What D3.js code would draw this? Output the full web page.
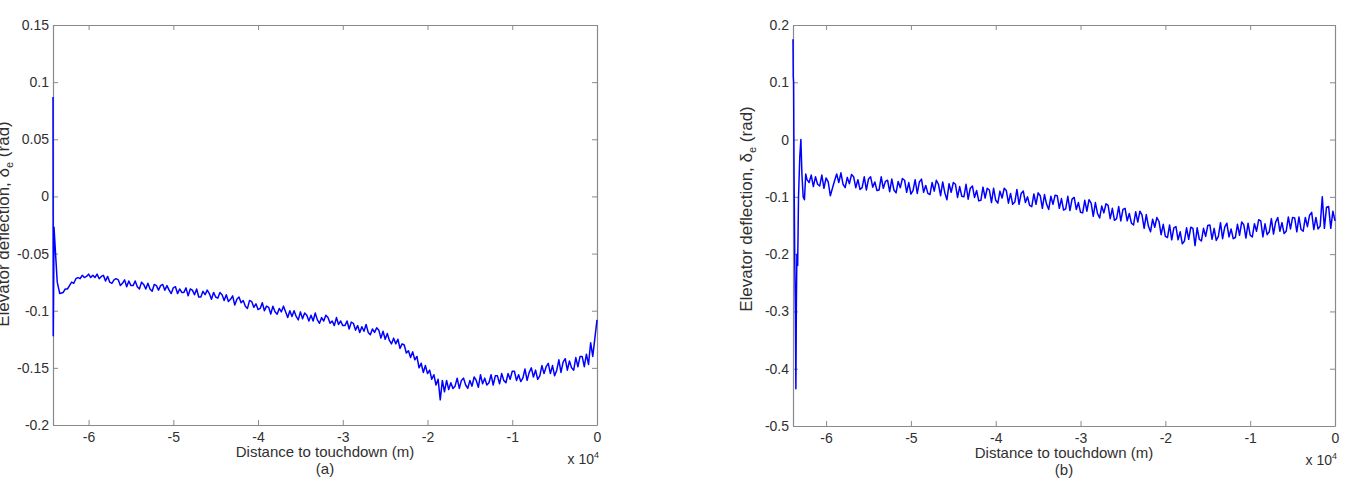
<!DOCTYPE html>
<html><head><meta charset="utf-8">
<script src="https://cdn.jsdelivr.net/npm/d3@7"></script>
<style>
body{margin:0;background:#fff}
svg{display:block}
text{font-family:"Liberation Sans",Arial,sans-serif;fill:#303030}
</style>
</head><body>
<svg id="c" width="1350" height="486"></svg>
<script>
// ---------------- data ----------------
const STEP = 250; // sampling interval of the main record (m)

// panel (a): initial transient samples
const leftEarlyDist = [-64200, -64170, -64120, -64080, -63900, -63700, -63400, -63000];
const leftEarlyVal  = [0.087, -0.122, -0.075, -0.027, -0.050, -0.075, -0.085, -0.084];
// panel (a): main record, first sample at -62750 m, every STEP m up to 0
const leftMainStart = -62750;
const leftMainVal = [
 -0.081,-0.081,-0.078,-0.075, -0.076,-0.072,-0.071,-0.072, -0.069,-0.071,-0.070,-0.068,
 -0.071,-0.069,-0.071,-0.068, -0.072,-0.070,-0.069,-0.074, -0.070,-0.075,-0.076,-0.073,
 -0.072,-0.073,-0.078,-0.076, -0.073,-0.079,-0.074,-0.078, -0.078,-0.074,-0.079,-0.081,
 -0.075,-0.077,-0.081,-0.076, -0.081,-0.083,-0.077,-0.078, -0.082,-0.078,-0.077,-0.082,
 -0.078,-0.082,-0.085,-0.080, -0.079,-0.085,-0.081,-0.084, -0.084,-0.080,-0.087,-0.081,
 -0.082,-0.086,-0.081,-0.088, -0.088,-0.083,-0.086,-0.082, -0.085,-0.090,-0.084,-0.088,
 -0.089,-0.084,-0.086,-0.091, -0.086,-0.092,-0.090,-0.087, -0.095,-0.090,-0.088,-0.093,
 -0.091,-0.096,-0.098,-0.091, -0.092,-0.097,-0.094,-0.099, -0.098,-0.093,-0.100,-0.096,
 -0.097,-0.103,-0.096,-0.101, -0.103,-0.098,-0.101,-0.096, -0.101,-0.106,-0.100,-0.105,
 -0.100,-0.105,-0.108,-0.101, -0.107,-0.102,-0.104,-0.109, -0.104,-0.109,-0.102,-0.108,
 -0.111,-0.106,-0.109,-0.104, -0.106,-0.111,-0.109,-0.113, -0.106,-0.112,-0.109,-0.113,
 -0.113,-0.109,-0.116,-0.110, -0.111,-0.117,-0.113,-0.119, -0.114,-0.118,-0.112,-0.119,
 -0.121,-0.116,-0.119,-0.115, -0.117,-0.124,-0.118,-0.125, -0.120,-0.126,-0.129,-0.124,
 -0.129,-0.125,-0.133,-0.129, -0.130,-0.137,-0.135,-0.141, -0.136,-0.143,-0.140,-0.150,
 -0.146,-0.154,-0.148,-0.155, -0.152,-0.160,-0.156,-0.165, -0.160,-0.178,-0.161,-0.171,
 -0.161,-0.169,-0.163,-0.168, -0.166,-0.159,-0.168,-0.161, -0.159,-0.165,-0.168,-0.161,
 -0.166,-0.158,-0.161,-0.167, -0.156,-0.164,-0.159,-0.165, -0.163,-0.156,-0.165,-0.157,
 -0.157,-0.164,-0.155,-0.161, -0.163,-0.155,-0.160,-0.153, -0.153,-0.161,-0.156,-0.162,
 -0.159,-0.151,-0.161,-0.154, -0.150,-0.158,-0.152,-0.160, -0.157,-0.148,-0.155,-0.149,
 -0.146,-0.155,-0.148,-0.157, -0.152,-0.143,-0.154,-0.145, -0.142,-0.152,-0.144,-0.150,
 -0.152,-0.141,-0.149,-0.140, -0.140,-0.149,-0.138,-0.147, -0.128,-0.140,-0.124,-0.108
];

// panel (b): initial transient samples
const rightEarlyDist = [-63900, -63870, -63830, -63780, -63700, -63620, -63560, -63500, -63440, -63350, -63250, -63100, -62970, -62850, -62700, -62550, -62400, -62250];
const rightEarlyVal  = [0.175, 0.110, 0.100, -0.050, -0.200, -0.300, -0.435, -0.280, -0.200, -0.220, -0.100, -0.030, 0.000, -0.060, -0.100, -0.105, -0.060, -0.070];
// panel (b): main record, first sample at -62000 m, every STEP m up to 0
const rightMainStart = -62000;
const rightMainVal = [
 -0.075,
 -0.062,-0.082,-0.065,-0.078, -0.081,-0.062,-0.085,-0.067, -0.074,-0.098,-0.085,-0.072,
 -0.060,-0.075,-0.058,-0.078, -0.084,-0.066,-0.077,-0.061, -0.065,-0.084,-0.070,-0.087,
 -0.084,-0.065,-0.088,-0.069, -0.065,-0.083,-0.074,-0.089, -0.088,-0.065,-0.085,-0.073,
 -0.071,-0.091,-0.069,-0.088, -0.093,-0.073,-0.084,-0.068, -0.071,-0.092,-0.075,-0.095,
 -0.089,-0.070,-0.094,-0.074, -0.069,-0.092,-0.080,-0.094, -0.096,-0.075,-0.090,-0.071,
 -0.078,-0.098,-0.074,-0.093, -0.105,-0.077,-0.092,-0.075, -0.078,-0.101,-0.082,-0.099,
 -0.100,-0.078,-0.104,-0.085, -0.081,-0.101,-0.089,-0.107, -0.106,-0.083,-0.102,-0.085,
 -0.088,-0.110,-0.085,-0.106, -0.111,-0.090,-0.102,-0.085, -0.089,-0.111,-0.094,-0.113,
 -0.109,-0.087,-0.113,-0.094, -0.090,-0.110,-0.100,-0.115, -0.117,-0.095,-0.113,-0.093,
 -0.098,-0.120,-0.096,-0.113, -0.122,-0.099,-0.113,-0.097, -0.098,-0.120,-0.103,-0.123,
 -0.121,-0.099,-0.124,-0.104, -0.101,-0.122,-0.110,-0.127, -0.128,-0.106,-0.125,-0.105,
 -0.111,-0.134,-0.110,-0.129, -0.137,-0.116,-0.128,-0.112, -0.115,-0.138,-0.120,-0.141,
 -0.138,-0.117,-0.142,-0.122, -0.120,-0.142,-0.129,-0.146, -0.149,-0.126,-0.144,-0.125,
 -0.132,-0.155,-0.131,-0.151, -0.161,-0.139,-0.153,-0.136, -0.143,-0.166,-0.148,-0.169,
 -0.171,-0.149,-0.175,-0.154, -0.152,-0.175,-0.161,-0.182, -0.177,-0.154,-0.174,-0.153,
 -0.155,-0.185,-0.154,-0.174, -0.177,-0.155,-0.169,-0.150, -0.149,-0.174,-0.155,-0.176,
 -0.169,-0.145,-0.173,-0.153, -0.146,-0.170,-0.156,-0.173, -0.171,-0.148,-0.167,-0.144,
 -0.149,-0.172,-0.146,-0.167, -0.170,-0.147,-0.160,-0.140, -0.142,-0.170,-0.147,-0.166,
 -0.161,-0.138,-0.165,-0.144, -0.136,-0.160,-0.145,-0.164, -0.160,-0.135,-0.156,-0.136,
 -0.137,-0.161,-0.135,-0.157, -0.160,-0.136,-0.152,-0.132, -0.127,-0.157,-0.136,-0.156,
 -0.151,-0.100,-0.155,-0.118, -0.117,-0.155,-0.125,-0.142
];

const xTicks = [-60000, -50000, -40000, -30000, -20000, -10000, 0];
const xTickLabels = ["-6", "-5", "-4", "-3", "-2", "-1", "0"];
const leftYTicks = [0.15, 0.1, 0.05, 0, -0.05, -0.1, -0.15, -0.2];
const leftYTickLabels = ["0.15", "0.1", "0.05", "0", "-0.05", "-0.1", "-0.15", "-0.2"];
const rightYTicks = [0.2, 0.1, 0, -0.1, -0.2, -0.3, -0.4, -0.5];
const rightYTickLabels = ["0.2", "0.1", "0", "-0.1", "-0.2", "-0.3", "-0.4", "-0.5"];
const xLabelText = "Distance to touchdown (m)";
const panelTags = ["(a)", "(b)"];

// ---------------- build ----------------
function series(earlyDist, earlyVal, start, mainVal) {
  const pts = earlyDist.map((d, i) => ({d, v: earlyVal[i]}));
  mainVal.forEach((v, i) => pts.push({d: start + i * STEP, v}));
  return pts;
}
const leftData = series(leftEarlyDist, leftEarlyVal, leftMainStart, leftMainVal);
const rightData = series(rightEarlyDist, rightEarlyVal, rightMainStart, rightMainVal);

const panels = [
  {data: leftData, x0: 53, x1: 597, y0: 25, y1: 425, yDomain: [-0.2, 0.15], yTicks: leftYTicks, yLabels: leftYTickLabels, tag: panelTags[0], ylabX: 9, ylabY: 224},
  {data: rightData, x0: 793, x1: 1335, y0: 25, y1: 426, yDomain: [-0.5, 0.2], yTicks: rightYTicks, yLabels: rightYTickLabels, tag: panelTags[1], ylabX: 752, ylabY: 209}
];

const svg = d3.select("#c");
const AXC = "#8a8a8a";
const FS = 14;

panels.forEach(p => {
  const x = d3.scaleLinear().domain([d3.min(p.data, d => d.d), 0]).range([p.x0, p.x1]);
  const y = d3.scaleLinear().domain(p.yDomain).range([p.y1, p.y0]);
  const g = svg.append("g");

  const style = sel => {
    sel.select(".domain").attr("stroke", AXC).attr("stroke-width", 1.2);
    sel.selectAll(".tick line").attr("stroke", AXC).attr("stroke-width", 1);
    sel.selectAll(".tick text").attr("font-size", FS).attr("fill", "#303030")
      .attr("font-family", "'Liberation Sans', Arial, sans-serif");
  };

  g.append("g").attr("transform", `translate(0,${p.y1})`)
    .call(d3.axisBottom(x).tickValues(xTicks).tickFormat((d, i) => xTickLabels[i]).tickSizeInner(-5).tickSizeOuter(0).tickPadding(7))
    .call(style);
  g.append("g").attr("transform", `translate(0,${p.y0})`)
    .call(d3.axisTop(x).tickValues(xTicks).tickFormat("").tickSizeInner(-5).tickSizeOuter(0))
    .call(style);
  g.append("g").attr("transform", `translate(${p.x0},0)`)
    .call(d3.axisLeft(y).tickValues(p.yTicks).tickFormat((d, i) => p.yLabels[i]).tickSizeInner(-5).tickSizeOuter(0).tickPadding(4))
    .call(style);
  g.append("g").attr("transform", `translate(${p.x1},0)`)
    .call(d3.axisRight(y).tickValues(p.yTicks).tickFormat("").tickSizeInner(-5).tickSizeOuter(0))
    .call(style);

  const line = d3.line().x(d => x(d.d)).y(d => y(d.v));
  g.append("path").datum(p.data).attr("d", line)
    .attr("fill", "none").attr("stroke", "#0000ff").attr("stroke-width", 1.5).attr("stroke-linejoin", "round");

  const cx = (p.x0 + p.x1) / 2;
  g.append("text").attr("x", cx).attr("y", p.y1 + 32).attr("text-anchor", "middle")
    .attr("font-size", 15).text(xLabelText);
  g.append("text").attr("x", cx).attr("y", p.y1 + 49).attr("text-anchor", "middle")
    .attr("font-size", 15).text(p.tag);
  const m = g.append("text").attr("x", p.x1 + 2).attr("y", p.y1 + 39).attr("text-anchor", "end").attr("font-size", 14);
  m.append("tspan").text("x 10");
  m.append("tspan").attr("font-size", 9).attr("dy", -6).text("4");

  const yl = g.append("text").attr("transform", `translate(${p.ylabX},${p.ylabY}) rotate(-90)`)
    .attr("text-anchor", "middle").attr("font-size", 17);
  yl.append("tspan").text("Elevator deflection, \u03B4");
  yl.append("tspan").attr("font-size", 11).attr("dy", 4).text("e");
  yl.append("tspan").attr("dy", -4).text(" (rad)");
});
</script>
</body></html>
